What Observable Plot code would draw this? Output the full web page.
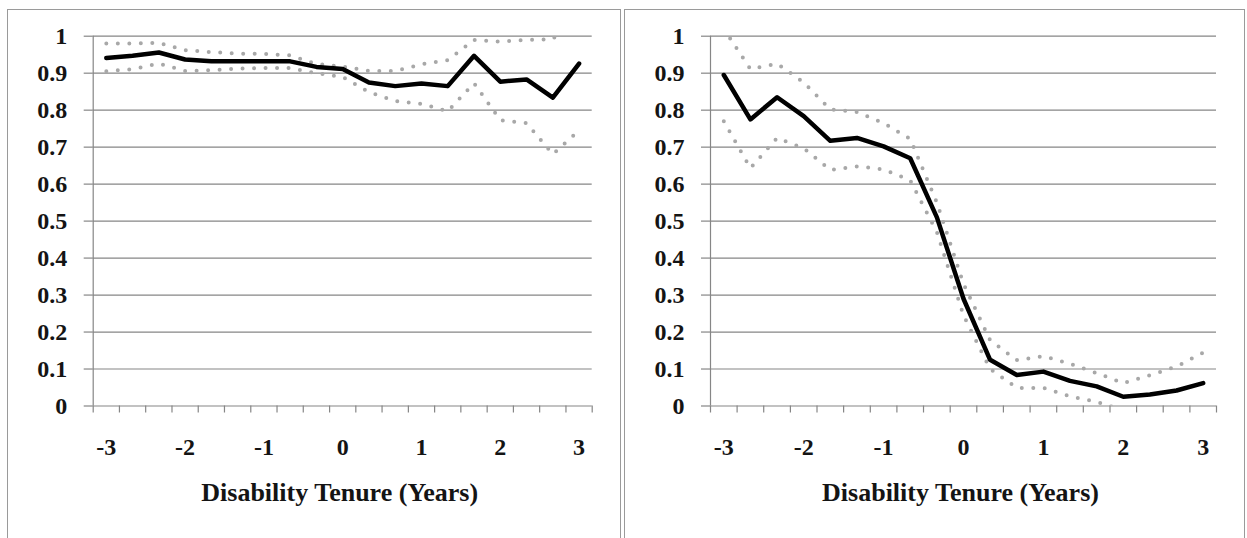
<!DOCTYPE html>
<html>
<head>
<meta charset="utf-8">
<script src="https://cdn.jsdelivr.net/npm/d3@7"></script>
<script src="https://cdn.jsdelivr.net/npm/@observablehq/plot@0.6"></script>
<style>
  body { margin: 0; background: #fff; width: 1247px; height: 538px; overflow: hidden; position: relative; }
  .panel { position: absolute; top: 9px; height: 560px; border: 1px solid #9a9a9a; background: #fff; }
  #left { left: 7px; width: 612px; }
  #right { left: 624px; width: 619px; }
  .panel svg { display: block; }
  .panel svg, .panel svg text {
    font-family: "Liberation Serif", "Times New Roman", serif !important;
    font-weight: bold;
  }
</style>
</head>
<body>
<div id="left" class="panel"></div>
<div id="right" class="panel"></div>
<script>
// Disability tenure in years, one observation every four months
const tenure = [-3, -2.667, -2.333, -2, -1.667, -1.333, -1, -0.667, -0.333, 0,
                0.333, 0.667, 1, 1.333, 1.667, 2, 2.333, 2.667, 3];
const xTickLabels = [-3, -2, -1, 0, 1, 2, 3];
const yTicks = [0, 0.1, 0.2, 0.3, 0.4, 0.5, 0.6, 0.7, 0.8, 0.9, 1];
const axisTitle = "Disability Tenure (Years)";

// Left panel: estimate with upper and lower confidence bounds
const leftMean  = [0.941, 0.947, 0.956, 0.937, 0.932, 0.932, 0.932, 0.932, 0.917, 0.911,
                   0.875, 0.865, 0.872, 0.865, 0.947, 0.877, 0.883, 0.834, 0.926];
const leftUpper = [0.980, 0.980, 0.982, 0.962, 0.957, 0.953, 0.952, 0.948, 0.925, 0.918,
                   0.906, 0.906, 0.924, 0.935, 0.990, 0.985, 0.990, 0.992, 1.070];
const leftLower = [0.905, 0.911, 0.926, 0.906, 0.908, 0.912, 0.914, 0.914, 0.900, 0.890,
                   0.849, 0.825, 0.817, 0.797, 0.873, 0.773, 0.765, 0.681, 0.745];

// Right panel: estimate with upper and lower confidence bounds
const rightMean  = [0.895, 0.775, 0.835, 0.784, 0.717, 0.725, 0.702, 0.670, 0.510, 0.290,
                    0.125, 0.084, 0.093, 0.068, 0.053, 0.025, 0.031, 0.042, 0.062];
const rightUpper = [1.020, 0.911, 0.926, 0.875, 0.802, 0.795, 0.765, 0.722, 0.550, 0.330,
                    0.178, 0.124, 0.135, 0.114, 0.089, 0.062, 0.083, 0.107, 0.144];
const rightLower = [0.770, 0.643, 0.725, 0.697, 0.638, 0.648, 0.640, 0.610, 0.470, 0.245,
                    0.100, 0.049, 0.049, 0.026, 0.011, -0.012, -0.021, -0.023, -0.020];

// Category boundaries (tick marks sit between the observations)
const step = tenure[1] - tenure[0];
const tickEdges = [tenure[0] - step / 2, ...tenure.map(t => t + step / 2)];

const gridColor = "#868686";
const bandColor = "#a8a8a8";

function panel(mean, upper, lower, width, marginLeft, marginRight) {
  const rows = tenure.map((t, i) => ({t, mean: mean[i], upper: upper[i], lower: lower[i]}));
  const band = {x: "t", stroke: bandColor, strokeWidth: 4, strokeDasharray: "0 11.5",
                strokeLinecap: "round", clip: true};
  return Plot.plot({
    width,
    height: 528,
    marginLeft,
    marginRight,
    marginTop: 25.7,
    marginBottom: 132.5,
    style: {
      fontSize: "24px",
      fontWeight: "bold",
      color: "#141414",
      background: "transparent"
    },
    x: {domain: [tickEdges[0], tickEdges[tickEdges.length - 1]], label: null},
    y: {domain: [0, 1], label: null},
    marks: [
      Plot.gridY(yTicks, {stroke: gridColor, strokeOpacity: 1, strokeWidth: 1.2}),
      Plot.axisY(yTicks, {tickSize: 9, tickPadding: 17, stroke: gridColor, strokeWidth: 1.2,
                          tickFormat: d => String(d), label: null}),
      Plot.ruleX([tickEdges[0]], {stroke: gridColor, strokeWidth: 1.2}),
      Plot.axisX(tickEdges, {tickSize: 7, stroke: gridColor, strokeWidth: 1.2,
                             tickFormat: () => "", label: null}),
      Plot.axisX(xTickLabels, {tickSize: 0, tickPadding: 32, tickFormat: d => String(d), label: null}),
      Plot.line(rows, {...band, y: "upper"}),
      Plot.line(rows, {...band, y: "lower"}),
      Plot.line(rows, {x: "t", y: "mean", stroke: "#000", strokeWidth: 4.5,
                       strokeLinejoin: "round", clip: true}),
      Plot.text([axisTitle], {frameAnchor: "bottom", dx: -3, dy: 95, fontSize: 26, fontWeight: "bold"})
    ]
  });
}

document.getElementById("left").append(panel(leftMean, leftUpper, leftLower, 612, 84.7, 28.3));
document.getElementById("right").append(panel(rightMean, rightUpper, rightLower, 619, 85, 28));
</script>
</body>
</html>
